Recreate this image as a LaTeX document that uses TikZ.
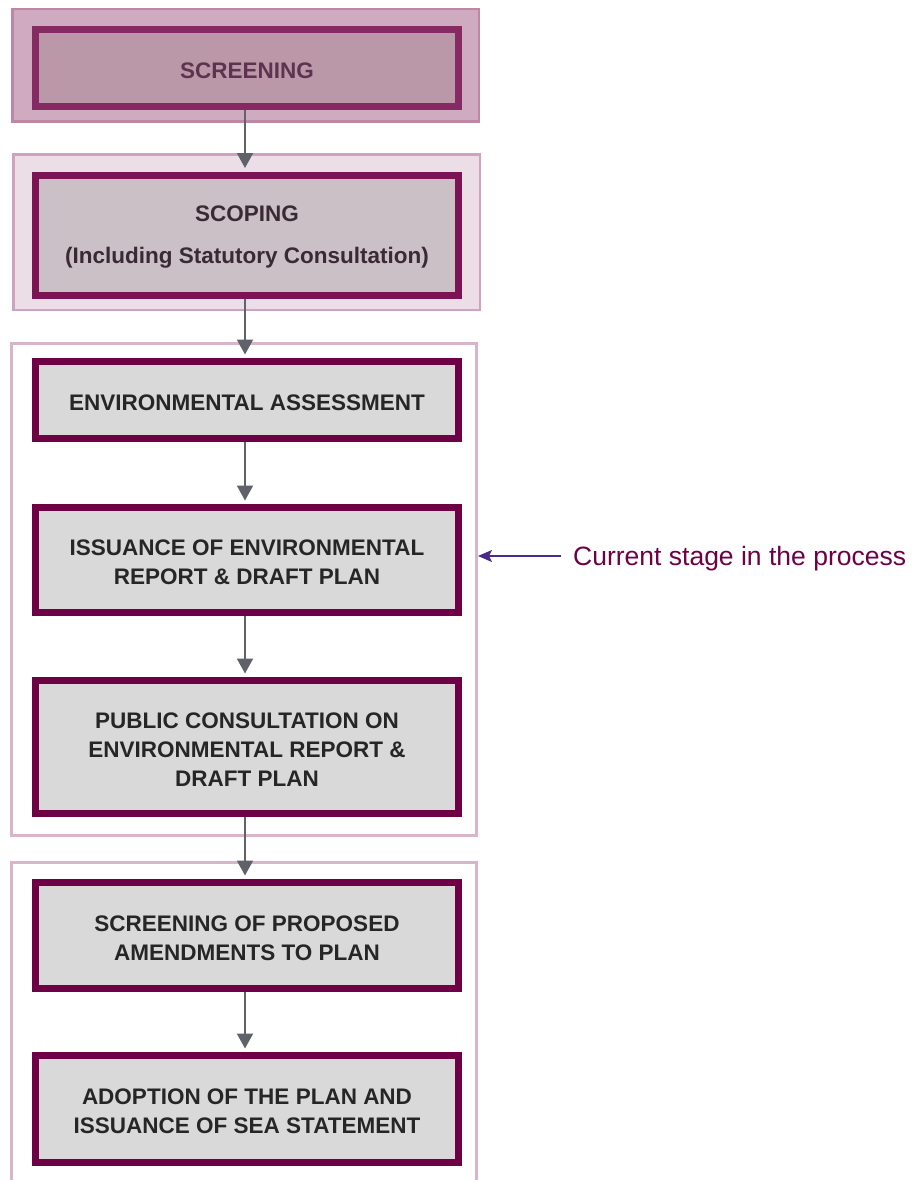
\documentclass[tikz,border=0pt]{standalone}
\usepackage{fontspec}
\setmainfont{Liberation Sans}
\usetikzlibrary{arrows.meta}
\definecolor{oneout}{HTML}{CFABBF}
\definecolor{oneoutd}{HTML}{BE87A6}
\definecolor{onein}{HTML}{BA98A8}
\definecolor{oneind}{HTML}{852A62}
\definecolor{onetxt}{HTML}{5E3350}
\definecolor{twoout}{HTML}{EBDEE6}
\definecolor{twooutd}{HTML}{CFA3BF}
\definecolor{twoin}{HTML}{CBC0C6}
\definecolor{twoind}{HTML}{7B1354}
\definecolor{twotxt}{HTML}{3A2A34}
\definecolor{groupd}{HTML}{D9B4CA}
\definecolor{boxfill}{HTML}{D9D9D9}
\definecolor{boxd}{HTML}{6E0046}
\definecolor{boxtxt}{HTML}{262626}
\definecolor{arrowc}{HTML}{5F6369}
\definecolor{curc}{HTML}{4B2A8B}
\newcommand{\stagetext}[1]{\raisebox{-2.5pt}[\height][\depth]{\parbox{420pt}{\centering #1}}}
\tikzset{
  stagebox/.style={draw=boxd, fill=boxfill, line width=7pt, inner sep=0pt,
    minimum width=423pt, text=boxtxt,
    font=\fontsize{22.5}{29}\selectfont\bfseries},
  groupbox/.style={draw=groupd, fill=white, line width=3pt, inner sep=0pt, minimum width=465pt},
  flow/.style={draw=arrowc, line width=2pt, -{Triangle[width=16pt,length=15pt]},
    shorten >=3.5pt},
}
\begin{document}
\begin{tikzpicture}[x=1pt,y=-1pt]
\clip (0,0) rectangle (912,1180);
\fill[white] (0,0) rectangle (912,1180);
% group boxes
\node[draw=oneoutd, fill=oneout, line width=2.5pt, inner sep=0pt, minimum width=466.5pt, minimum height=112.5pt] (o1) at (245.5,65.5) {};
\node[draw=twooutd, fill=twoout, line width=2.5pt, inner sep=0pt, minimum width=466.5pt, minimum height=155.5pt] (o2) at (246.5,232) {};
\node[groupbox, minimum height=492pt] (o3) at (244,589.5) {};
\node[groupbox, minimum height=336pt] (o4) at (244,1030) {};
% stage boxes
\node[stagebox, draw=oneind, fill=onein, text=onetxt, minimum height=77pt] (s1) at (247,68) {\stagetext{SCREENING}};
\node[stagebox, draw=twoind, fill=twoin, text=twotxt, minimum height=120pt,
  font=\fontsize{22.5}{42}\selectfont\bfseries] (s2) at (247,235) {\stagetext{SCOPING\\(Including Statutory Consultation)}};
\node[stagebox, minimum height=77pt] (ea) at (247,400) {\stagetext{ENVIRONMENTAL ASSESSMENT}};
\node[stagebox, minimum height=105pt] (iss) at (247,560) {\stagetext{ISSUANCE OF ENVIRONMENTAL\\REPORT \& DRAFT PLAN}};
\node[stagebox, minimum height=133pt] (pub) at (247,747) {\stagetext{PUBLIC CONSULTATION ON\\ENVIRONMENTAL REPORT \&\\DRAFT PLAN}};
\node[stagebox, minimum height=106pt] (scr) at (247,935.5) {\stagetext{SCREENING OF PROPOSED\\AMENDMENTS TO PLAN}};
\node[stagebox, minimum height=107pt] (adp) at (247,1109) {\stagetext{ADOPTION OF THE PLAN AND\\ISSUANCE OF SEA STATEMENT}};
% flow arrows
\draw[flow] ([xshift=-2pt]s1.south) -- ([xshift=-2pt]s2.north);
\draw[flow] ([xshift=-2pt]s2.south) -- ([xshift=-2pt]ea.north);
\draw[flow] ([xshift=-2pt]ea.south) -- ([xshift=-2pt]iss.north);
\draw[flow] ([xshift=-2pt]iss.south) -- ([xshift=-2pt]pub.north);
\draw[flow] ([xshift=-2pt]pub.south) -- ([xshift=-2pt]scr.north);
\draw[flow] ([xshift=-2pt]scr.south) -- ([xshift=-2pt]adp.north);
% current stage
\node[anchor=west, inner sep=0pt, text=boxd, font=\fontsize{26.5}{30}\selectfont] (lbl) at (573,559) {Current stage in the process};
\draw[draw=curc, line width=1.5pt, -{Stealth[length=14pt,width=12pt,inset=3pt]}]
  ([xshift=-12pt,yshift=3pt]lbl.west) -- ([yshift=3pt]lbl.west -| o3.east);
\end{tikzpicture}
\end{document}
